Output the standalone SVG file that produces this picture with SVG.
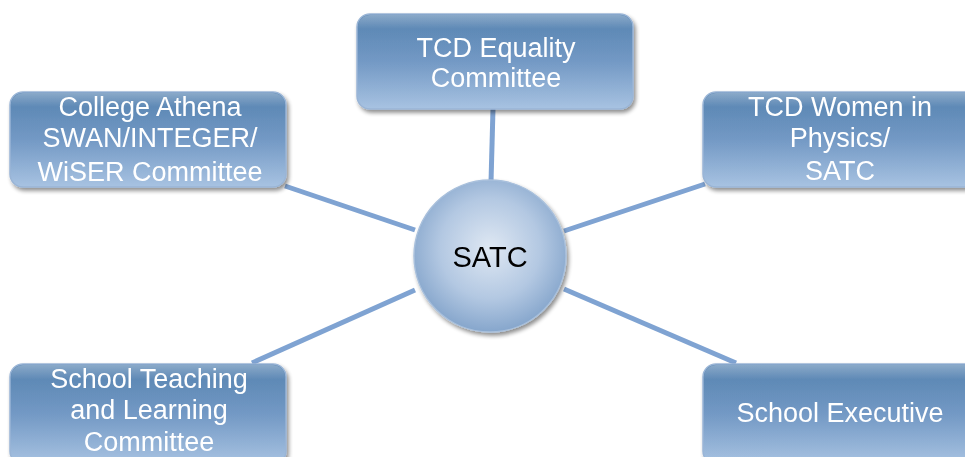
<svg xmlns="http://www.w3.org/2000/svg" width="965" height="457" viewBox="0 0 965 457">
  <defs>
    <linearGradient id="boxFill" x1="0" y1="0" x2="0" y2="1">
      <stop offset="0" stop-color="#4b7bab"/>
      <stop offset="0.5" stop-color="#6f96c3"/>
      <stop offset="1" stop-color="#a8c3e2"/>
    </linearGradient>
    <linearGradient id="boxGloss" x1="0" y1="0" x2="0" y2="1">
      <stop offset="0" stop-color="#ffffff" stop-opacity="0.35"/>
      <stop offset="0.15" stop-color="#ffffff" stop-opacity="0.05"/>
      <stop offset="1" stop-color="#ffffff" stop-opacity="0"/>
    </linearGradient>
    <radialGradient id="hubFill" cx="0.5" cy="0.45" r="0.55">
      <stop offset="0" stop-color="#dfe8f3"/>
      <stop offset="0.6" stop-color="#b3c8e2"/>
      <stop offset="1" stop-color="#86a6cc"/>
    </radialGradient>
    <filter id="shadow" x="-10%" y="-10%" width="125%" height="130%">
      <feGaussianBlur in="SourceAlpha" stdDeviation="2"/>
      <feOffset dx="1.5" dy="2.5" result="b"/>
      <feComponentTransfer><feFuncA type="linear" slope="0.45"/></feComponentTransfer>
      <feMerge><feMergeNode/><feMergeNode in="SourceGraphic"/></feMerge>
    </filter>
  </defs>
  <style>
    .box { fill: url(#boxFill); stroke: #9ab5d6; stroke-width: 1.5; }
    .gloss { fill: url(#boxGloss); }
    .lbl { font-family: "Liberation Sans", Arial, sans-serif; font-size: 27px; fill: #ffffff; text-anchor: middle; }
    .hub { font-family: "Liberation Sans", Arial, sans-serif; font-size: 29px; fill: #000000; text-anchor: middle; }
    .link { stroke: #7fa3d2; stroke-width: 5; stroke-linecap: butt; fill: none; }
  </style>

  <g id="connectors">
    <line class="link" x1="493" y1="109" x2="491" y2="182"/>
    <line class="link" x1="285" y1="186" x2="415" y2="230"/>
    <line class="link" x1="252" y1="363" x2="415" y2="290"/>
    <line class="link" x1="564" y1="231" x2="705" y2="184"/>
    <line class="link" x1="564" y1="289" x2="736" y2="363"/>
  </g>

  <g id="node-equality" filter="url(#shadow)">
    <rect class="box" x="357" y="14" width="276" height="95" rx="13"/>
    <rect class="gloss" x="358" y="15" width="274" height="93" rx="12"/>
    <text class="lbl" x="496" y="57">TCD Equality</text>
    <text class="lbl" x="496" y="87">Committee</text>
  </g>

  <g id="node-athena" filter="url(#shadow)">
    <rect class="box" x="10" y="92" width="276" height="95" rx="13"/>
    <rect class="gloss" x="11" y="93" width="274" height="93" rx="12"/>
    <text class="lbl" x="150" y="116">College Athena</text>
    <text class="lbl" x="150" y="147">SWAN/INTEGER/</text>
    <text class="lbl" x="150" y="181">WiSER Committee</text>
  </g>

  <g id="node-women" filter="url(#shadow)">
    <rect class="box" x="703" y="92" width="276" height="95" rx="13"/>
    <rect class="gloss" x="704" y="93" width="274" height="93" rx="12"/>
    <text class="lbl" x="840" y="116">TCD Women in</text>
    <text class="lbl" x="840" y="147">Physics/</text>
    <text class="lbl" x="840" y="180">SATC</text>
  </g>

  <g id="node-teaching" filter="url(#shadow)">
    <rect class="box" x="10" y="364" width="276" height="100" rx="13"/>
    <rect class="gloss" x="11" y="365" width="274" height="98" rx="12"/>
    <text class="lbl" x="149" y="388">School Teaching</text>
    <text class="lbl" x="149" y="419">and Learning</text>
    <text class="lbl" x="149" y="451">Committee</text>
  </g>

  <g id="node-executive" filter="url(#shadow)">
    <rect class="box" x="703" y="364" width="276" height="100" rx="13"/>
    <rect class="gloss" x="704" y="365" width="274" height="98" rx="12"/>
    <text class="lbl" x="840" y="422">School Executive</text>
  </g>

  <g id="node-satc" filter="url(#shadow)">
    <circle cx="490" cy="256" r="76" fill="url(#hubFill)" stroke="#a9c0dc" stroke-width="1.5"/>
    <text class="hub" x="490" y="267">SATC</text>
  </g>
</svg>
